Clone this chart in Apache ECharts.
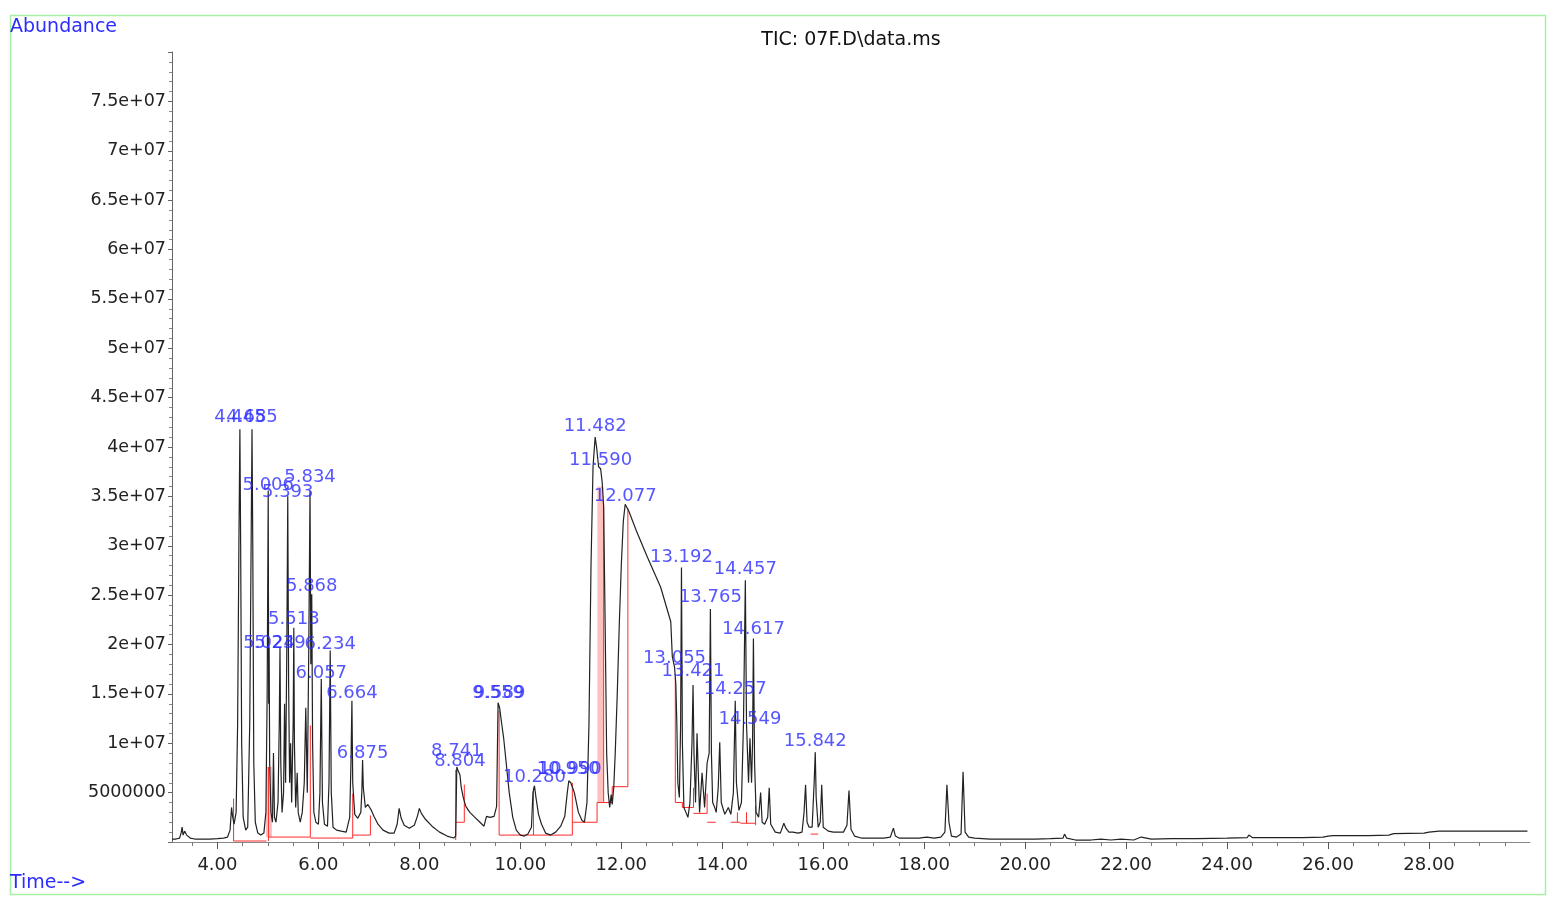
<!DOCTYPE html>
<html><head><meta charset="utf-8">
<script src="https://cdn.jsdelivr.net/npm/echarts@6/dist/echarts.min.js"></script>
<style>html,body{margin:0;padding:0;background:#fff}#c{width:1553px;height:897px}</style>
</head><body><div id="c"></div>
<script>
// Retention time (min) of the TIC trace
const retentionTimes = [
  3.10,3.18,3.25,3.28,3.30,3.32,3.35,3.37,3.39,3.42,3.46,3.55,3.70,3.85,4.00,4.12,4.20,
  4.25,4.28,4.30,4.33,4.37,4.40,4.425,4.445,4.46,4.48,4.51,4.56,4.60,4.64,4.67,4.685,4.70,4.72,4.75,4.80,4.86,4.92,
  4.96,4.985,5.006,5.015,5.024,5.035,5.06,5.09,5.11,5.13,5.16,5.20,5.225,5.239,5.255,5.28,5.31,5.33,5.35,5.375,5.393,5.41,5.43,5.45,5.47,5.50,5.513,5.525,5.55,5.58,5.60,5.64,5.68,5.72,5.75,5.78,5.81,5.834,5.85,5.868,5.885,5.91,5.95,6.00,6.03,6.057,6.08,6.12,6.18,6.21,6.234,6.255,6.29,
  6.36,6.45,6.55,6.62,6.645,6.664,6.68,6.72,6.78,6.84,6.86,6.875,6.89,6.93,6.98,7.05,7.10,7.18,7.28,7.40,7.50,7.56,7.60,7.64,7.70,7.80,7.90,7.96,8.00,8.04,8.12,8.25,8.40,8.55,8.68,
  8.72,8.741,8.77,8.804,8.83,8.87,8.92,9.00,9.10,9.20,9.28,9.33,9.40,9.48,9.53,9.559,9.589,9.63,9.67,9.72,9.78,9.85,9.92,10.00,
  10.08,10.15,10.22,10.25,10.28,10.31,10.36,10.42,10.50,10.60,10.70,10.80,10.88,10.93,10.96,11.00,11.07,11.15,11.22,11.27,
  11.32,11.36,11.40,11.44,11.482,11.51,11.55,11.59,11.62,11.65,11.68,11.71,11.74,11.77,11.80,11.82,11.85,11.88,11.92,11.96,12.00,12.04,12.077,12.15,12.30,12.52,12.78,12.98,
  13.01,13.055,13.08,13.10,13.12,13.15,13.175,13.192,13.21,13.24,13.28,13.32,13.36,13.40,13.421,13.44,13.47,13.50,13.55,13.60,13.65,13.70,13.74,13.765,13.785,13.81,13.85,13.88,13.92,13.95,13.98,14.05,14.12,14.17,14.22,14.257,14.28,14.33,14.38,14.42,14.457,14.48,14.52,14.549,14.58,14.60,14.617,14.64,14.67,14.72,14.76,14.79,14.84,14.90,14.93,14.96,15.05,
  15.15,15.22,15.26,15.32,15.40,15.50,15.58,15.62,15.65,15.68,15.72,15.78,15.82,15.842,15.86,15.90,15.94,15.97,16.00,16.10,16.20,16.30,16.40,16.47,16.51,16.55,16.62,16.75,16.90,17.05,17.20,
  17.33,17.39,17.43,17.50,17.70,17.90,18.05,18.20,18.33,18.41,18.45,18.49,18.54,18.64,18.73,18.77,18.81,18.88,19.00,19.30,19.60,19.90,20.20,20.50,20.75,20.78,20.82,21.00,21.30,21.50,21.70,21.90,22.15,22.30,22.50,22.90,23.40,24.00,24.40,24.43,24.50,25.00,25.50,25.90,26.00,26.10,26.80,27.20,27.30,27.90,28.00,28.20,29.00,29.95
];
// Abundance in millions of counts
const abundanceM = [
  0.3,0.3,0.4,0.9,1.5,0.7,1.1,1.3,0.7,0.6,0.4,0.3,0.3,0.3,0.35,0.4,0.5,
  1.2,3.5,2.6,1.8,3.0,12.0,30.0,41.8,30.0,10.0,2.5,1.2,1.5,12.0,32.0,41.8,30.0,8.0,2.0,0.9,0.7,0.9,
  3.0,15.0,35.6,14.0,19.7,8.0,3.0,2.0,9.0,2.5,2.0,4.0,12.0,19.7,8.0,3.0,5.0,14.0,6.0,20.0,35.0,16.0,6.0,10.0,4.0,12.0,21.7,10.0,3.5,7.0,3.0,2.0,3.0,6.0,13.6,5.0,20.0,35.6,18.0,25.1,10.0,3.0,2.0,1.8,5.0,16.5,4.0,1.8,1.6,6.0,19.4,5.0,1.5,
  1.2,1.1,1.0,2.5,8.0,14.3,6.0,2.8,2.4,3.0,5.0,8.3,5.5,3.5,3.8,3.2,2.6,1.8,1.2,0.9,0.9,1.8,3.4,2.4,1.7,1.4,1.7,2.6,3.4,2.9,2.3,1.6,1.0,0.6,0.4,
  0.6,7.6,7.2,6.8,5.5,4.5,3.6,3.0,2.5,2.0,1.6,2.6,2.5,2.6,3.6,14.1,13.6,12.0,10.5,8.0,5.0,2.5,1.2,0.7,
  0.6,0.8,1.5,5.0,5.7,4.5,2.8,1.8,0.9,0.7,1.0,1.6,2.6,5.0,6.2,6.0,5.0,3.0,2.2,2.0,
  4.0,12.0,28.0,38.0,41.0,40.0,38.0,37.8,36.5,34.0,22.0,9.0,5.0,3.5,4.8,3.8,5.5,9.0,15.0,22.0,28.0,32.5,34.2,33.5,31.5,28.8,25.8,22.3,
  18.8,17.7,16.0,12.0,6.0,4.5,12.0,27.8,10.0,3.5,3.0,2.5,4.0,10.0,15.9,9.0,4.0,11.0,3.0,7.0,3.5,8.0,9.0,23.6,9.0,4.0,3.5,3.0,5.5,10.1,4.0,2.8,3.5,2.8,5.0,14.3,6.0,3.2,4.0,12.0,26.5,12.0,6.0,10.5,6.0,10.0,20.6,8.0,3.0,2.5,5.0,2.0,1.8,2.5,5.5,1.8,1.0,
  0.9,1.9,1.4,1.0,1.0,0.9,1.0,3.0,5.8,2.0,1.5,1.5,6.0,9.1,4.5,1.5,2.0,5.8,1.5,1.1,1.0,1.0,1.0,1.7,5.2,1.3,0.6,0.4,0.4,0.4,0.4,
  0.5,1.4,0.6,0.4,0.4,0.4,0.5,0.4,0.5,1.0,5.8,2.0,0.6,0.5,0.8,7.1,1.0,0.5,0.4,0.3,0.3,0.3,0.3,0.35,0.4,0.8,0.4,0.2,0.2,0.3,0.2,0.3,0.2,0.5,0.3,0.35,0.35,0.4,0.45,0.7,0.45,0.45,0.45,0.5,0.6,0.65,0.65,0.7,0.85,0.9,1.0,1.1,1.1,1.1
];
// Peak annotations: retention time and the height where the label sits (millions)
const peakLabelTimes = [4.445,4.685,5.006,5.393,5.834,5.868,5.513,5.024,5.239,6.234,6.057,6.664,6.875,8.741,8.804,9.559,9.589,10.280,10.950,10.990,11.482,11.590,12.077,13.192,14.457,13.765,14.617,13.055,13.421,14.257,14.549,15.842];
const peakLabelHeights = [42.0,42.0,35.2,34.4,36.0,24.9,21.6,19.2,19.2,19.1,16.1,14.1,8.0,8.2,7.2,14.1,14.1,5.6,6.4,6.4,41.1,37.7,34.0,27.9,26.6,23.8,20.6,17.6,16.3,14.5,11.5,9.2];
// Integration baselines / drop lines (null = break)
const integrationTimes = [4.32,4.32,4.97,null,5.01,5.01,null,5.01,5.84,null,5.84,5.84,null,5.84,6.68,6.68,null,6.68,7.03,7.03,null,
  8.72,8.72,null,8.72,8.89,8.89,null,9.58,9.58,null,9.58,10.26,10.26,null,10.26,11.03,11.03,null,
  11.03,11.52,11.52,11.65,11.82,11.82,12.13,12.13,null,11.65,11.65,null,
  13.07,13.07,null,13.07,13.21,13.21,13.43,13.43,null,13.43,13.70,13.70,null,13.70,13.87,null,14.17,14.36,null,14.30,14.30,null,
  14.36,14.66,null,14.48,14.48,null,14.66,14.66,null,15.75,15.90];
const integrationValues = [4.4,0.1,0.1,null,0.1,7.6,null,0.5,0.5,null,0.5,11.8,null,0.4,0.4,4.9,null,0.7,0.7,2.7,null,
  0.2,7.3,null,2.0,2.0,5.8,null,0.7,13.3,null,0.7,0.7,5.5,null,0.7,0.7,6.0,null,
  2.0,2.0,4.0,4.0,4.0,5.6,5.6,33.8,null,4.0,34.0,null,
  4.0,16.7,null,4.0,4.0,3.5,3.5,5.5,null,2.9,2.9,4.9,null,2.0,2.0,null,2.0,2.0,null,2.0,3.0,null,
  1.9,1.9,null,1.9,3.0,null,1.7,3.7,null,0.8,0.8];
// Shaded integrated areas
const fillTimes = [5.02,5.02,null,11.585,11.585];
const fillValues = [0.5,7.6,null,4.0,36.0];
// Axis ticks
const xMajorTicks = [4,6,8,10,12,14,16,18,20,22,24,26,28];
const xMinorTicks = [3.5,4.5,5,5.5,6.5,7,7.5,8.5,9,9.5,10.5,11,11.5,12.5,13,13.5,14.5,15,15.5,16.5,17,17.5,18.5,19,19.5,20.5,21,21.5,22.5,23,23.5,24.5,25,25.5,26.5,27,27.5,28.5,29,29.5];
const chartTitle = 'TIC: 07F.D\\data.ms';
const yAxisTitle = 'Abundance';
const xAxisTitle = 'Time-->';

function pairs(xs, ys) {
  return xs.map((x, i) => (x === null ? '-' : [x, ys[i]]));
}

const FONT = 'DejaVu Sans';
const BLUE = '#2c2cff';
const chart = echarts.init(document.getElementById('c'), null, {renderer: 'canvas'});
chart.setOption({
  animation: false,
  backgroundColor: '#ffffff',
  grid: {left: 172, right: 23, top: 52, bottom: 55, containLabel: false},
  xAxis: [{
    type: 'value', min: 3.1, max: 30,
    axisLine: {show: true, lineStyle: {color: '#888', width: 1}},
    axisTick: {show: true, customValues: xMajorTicks, length: 7, lineStyle: {color: '#555'}},
    axisLabel: {customValues: xMajorTicks, formatter: v => v.toFixed(2), margin: 14, color: '#222', fontFamily: FONT, fontSize: 18},
    splitLine: {show: false}
  }, {
    type: 'value', min: 3.1, max: 30, position: 'bottom',
    axisLine: {show: false},
    axisTick: {show: true, customValues: xMinorTicks, length: 4, lineStyle: {color: '#777'}},
    axisLabel: {show: false},
    splitLine: {show: false}
  }],
  yAxis: {
    type: 'value', min: 0, max: 80, interval: 5,
    axisLine: {show: true, lineStyle: {color: '#666', width: 1}},
    axisTick: {show: true, length: 4, lineStyle: {color: '#666'}},
    minorTick: {show: true, splitNumber: 5, length: 3, lineStyle: {color: '#888'}},
    axisLabel: {
      showMinLabel: false, showMaxLabel: false, margin: 6, color: '#222', fontFamily: FONT, fontSize: 17.5,
      formatter: v => (v === 0 ? '' : (v >= 10 ? (v / 10) + 'e+07' : String(v * 1e6)))
    },
    splitLine: {show: false}
  },
  series: [{
    type: 'line', name: 'fill', z: 1, silent: true,
    data: pairs(fillTimes, fillValues), showSymbol: false, symbol: 'none',
    lineStyle: {color: 'rgba(255,140,140,0.55)', width: 6}
  }, {
    type: 'line', name: 'integration', z: 2, silent: true,
    data: pairs(integrationTimes, integrationValues), showSymbol: false, symbol: 'none',
    lineStyle: {color: '#ff2a2a', width: 1}
  }, {
    type: 'line', name: 'TIC', z: 3, silent: true,
    data: pairs(retentionTimes, abundanceM), showSymbol: false, symbol: 'none',
    lineStyle: {color: '#222', width: 1.2}
  }, {
    type: 'scatter', name: 'labels', z: 4, silent: true,
    data: pairs(peakLabelTimes, peakLabelHeights), symbolSize: 1,
    itemStyle: {color: 'rgba(0,0,0,0)'},
    label: {show: true, position: 'top', distance: 0, formatter: p => p.value[0].toFixed(3), color: BLUE, fontFamily: FONT, fontSize: 18}
  }],
  graphic: [
    {type: 'rect', silent: true, shape: {x: 10.5, y: 15.5, width: 1535, height: 879}, style: {fill: 'none', stroke: '#a6f0a6', lineWidth: 1.5}},
    {type: 'text', silent: true, x: 851, y: 40, style: {text: chartTitle, fill: '#111', font: '19px "DejaVu Sans"', textAlign: 'center', textVerticalAlign: 'middle'}},
    {type: 'text', silent: true, x: 10, y: 27, style: {text: yAxisTitle, fill: BLUE, font: '19px "DejaVu Sans"', textAlign: 'left', textVerticalAlign: 'middle'}},
    {type: 'text', silent: true, x: 10, y: 883, style: {text: xAxisTitle, fill: BLUE, font: '19px "DejaVu Sans"', textAlign: 'left', textVerticalAlign: 'middle'}}
  ]
});
</script></body></html>
